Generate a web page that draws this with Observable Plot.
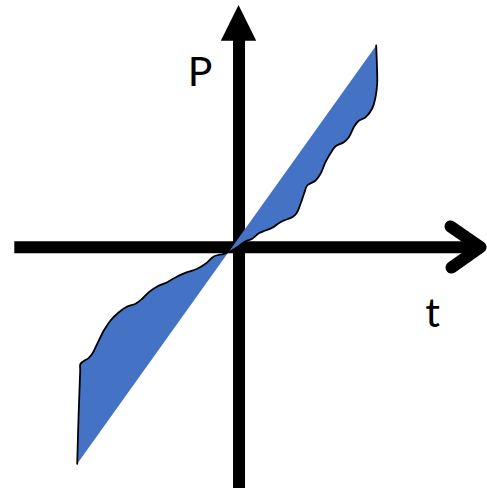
<!DOCTYPE html>
<html>
<head>
<meta charset="utf-8">
<script src="https://cdn.jsdelivr.net/npm/d3@7"></script>
<script src="https://cdn.jsdelivr.net/npm/@observablehq/plot@0.6"></script>
<style>
  html, body { margin: 0; padding: 0; background: #ffffff; }
  #chart svg { display: block; }
</style>
</head>
<body>
<div id="chart"></div>
<script>
// Curve P(t), top-right end to bottom-left end.
const curveT = [1.380, 1.388, 1.390, 1.373, 1.340, 1.273, 1.199, 1.155, 1.105, 1.054, 0.971,
  0.938, 0.870, 0.820, 0.770, 0.686, 0.659, 0.619, 0.579, 0.535, 0.451,
  0.400, 0.334, 0.267, 0.199, 0.133, 0.065, -0.018, -0.086, -0.153, -0.254,
  -0.337, -0.421, -0.521, -0.622, -0.722, -0.823, -0.908, -0.974, -1.041, -1.125,
  -1.209, -1.293, -1.360, -1.427, -1.477, -1.511, -1.595, -1.598, -1.606, -1.618, -1.628];
const curveP = [2.017, 1.800, 1.637, 1.500, 1.387, 1.300, 1.260, 1.200, 1.100, 1.050, 1.010,
  0.967, 0.850, 0.734, 0.667, 0.617, 0.550, 0.434, 0.340, 0.300, 0.267,
  0.240, 0.194, 0.167, 0.140, 0.084, 0.060, 0.000, -0.040, -0.066, -0.093,
  -0.166, -0.216, -0.250, -0.293, -0.350, -0.393, -0.450, -0.516, -0.566, -0.593,
  -0.650, -0.733, -0.833, -0.966, -1.066, -1.106, -1.166, -1.230, -1.450, -1.800, -2.166];

// Axis extents (data units)
const tAxisRange = [-2.256, 2.43];
const pAxisRange = [-2.413, 2.08];
// Arrow heads
const tArrowT = [2.128, 2.43, 2.138];
const tArrowP = [0.207, 0.0, -0.203];
const pArrowT = [-0.178, 0, 0.178];
const pArrowBase = 2.06;
const pArrowTip = [2.06, 2.417, 2.06];

// Axis labels
const labels = ["P", "t"];
const labelT = [-0.392, 1.947];
const labelP = [1.745, -0.665];

const curve = curveT.map((t, i) => ({t, p: curveP[i]}));
const tHead = tArrowT.map((t, i) => ({t, p: tArrowP[i]}));
const pHead = pArrowT.map((t, i) => ({t, y1: pArrowBase, y2: pArrowTip[i]}));
const labelData = labels.map((s, i) => ({s, t: labelT[i], p: labelP[i]}));

const chart = Plot.plot({
  width: 487,
  height: 491,
  margin: 0,
  style: {background: "#ffffff"},
  x: {domain: [-2.4, 2.5], axis: null},
  y: {domain: [-2.443, 2.467], axis: null},
  marks: [
    // horizontal axis
    Plot.ruleY([0], {x1: tAxisRange[0], x2: tAxisRange[1], stroke: "#000", strokeWidth: 12}),
    Plot.line(tHead, {x: "t", y: "p", stroke: "#000", strokeWidth: 12, strokeLinecap: "round", strokeLinejoin: "round"}),
    // vertical axis
    Plot.ruleX([0], {y1: pAxisRange[0], y2: pAxisRange[1], stroke: "#000", strokeWidth: 12}),
    Plot.areaY(pHead, {x: "t", y1: "y1", y2: "y2", fill: "#000", curve: "linear"}),
    // filled region between straight line and curve
    Plot.line(curve, {x: "t", y: "p", fill: "#4472C4", stroke: "none", curve: "catmull-rom"}),
    Plot.line(curve, {x: "t", y: "p", stroke: "#000", strokeWidth: 1.8, curve: "catmull-rom"}),
    // labels
    Plot.text(labelData, {x: "t", y: "p", text: "s", fontSize: 41, fontFamily: "Lato", fill: "#000", textAnchor: "middle", lineAnchor: "middle"})
  ]
});
document.getElementById("chart").appendChild(chart);
</script>
</body>
</html>
